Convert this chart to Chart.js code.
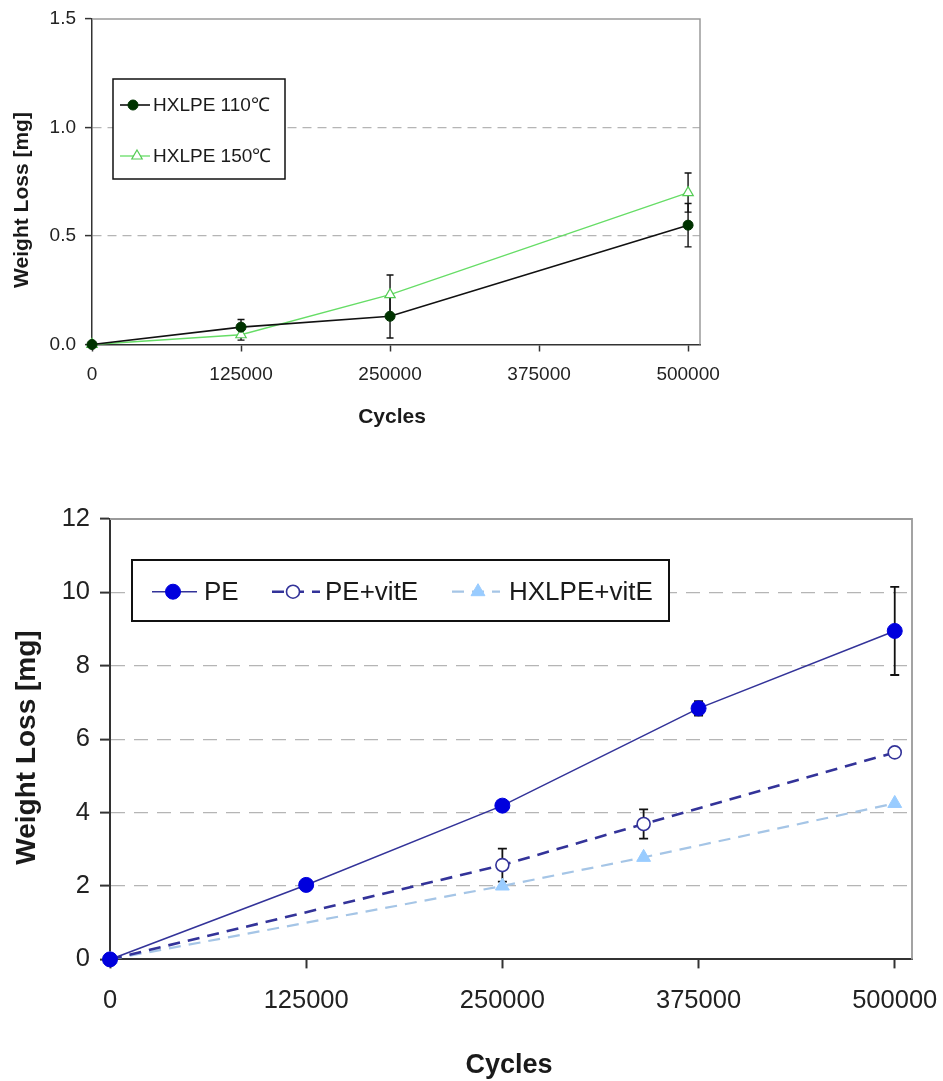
<!DOCTYPE html>
<html><head><meta charset="utf-8">
<script src="https://cdn.jsdelivr.net/npm/chart.js@4.4.0/dist/chart.umd.min.js"></script>
<style>
html,body{margin:0;padding:0;background:#fff;}
#wrap{position:relative;width:943px;height:1081px;overflow:hidden;background:#fff;}
canvas{position:absolute;left:0;display:block;}
#c1{top:0;} #c2{top:470px;}
</style></head><body>
<div id="wrap"><canvas id="c1" width="943" height="470"></canvas><canvas id="c2" width="943" height="611"></canvas></div>
<script>
// ---------- data: top chart ----------
const topCycles = [0, 125000, 250000, 500000];
const hx110 = [0, 0.08, 0.13, 0.55];
const hx110Err = [0, 0.035, 0.10, 0.10];
const hx150 = [0, 0.045, 0.23, 0.70];
const hx150Err = [0, 0.025, 0.09, 0.09];
const topXTicks = [0, 125000, 250000, 375000, 500000];
const topYTicks = [0, 0.5, 1.0, 1.5];

// ---------- data: bottom chart ----------
const peCycles = [0, 125000, 250000, 375000, 500000];
const pe = [0, 2.03, 4.19, 6.84, 8.95];
const peErr = [0, 0, 0, 0.2, 1.2];
const vitCycles = [0, 250000, 340000, 500000];
const peVit = [0, 2.57, 3.69, 5.64];
const peVitErr = [0, 0.45, 0.4, 0];
const hxVit = [0, 2.0, 2.78, 4.25];
const botXTicks = [0, 125000, 250000, 375000, 500000];
const botYTicks = [0, 2, 4, 6, 8, 10, 12];

const FONT = "'Liberation Sans', Arial, Helvetica, sans-serif";
const pts = (xs, ys) => xs.map((x, i) => ({x: x, y: ys[i]}));

function drawMarker(ctx, style, x, y, r, fill, stroke, lw) {
  ctx.save();
  ctx.beginPath();
  if (style === 'triangle') {
    let a = 0;
    ctx.moveTo(x + Math.sin(a) * r, y - Math.cos(a) * r);
    a += 2 * Math.PI / 3;
    ctx.lineTo(x + Math.sin(a) * r, y - Math.cos(a) * r);
    a += 2 * Math.PI / 3;
    ctx.lineTo(x + Math.sin(a) * r, y - Math.cos(a) * r);
    ctx.closePath();
  } else {
    ctx.arc(x, y, r, 0, Math.PI * 2);
  }
  ctx.fillStyle = fill; ctx.fill();
  ctx.lineWidth = lw; ctx.strokeStyle = stroke; ctx.stroke();
  ctx.restore();
}

const errorBars = {
  id: 'errorBars',
  beforeDatasetsDraw(chart) {
    const ctx = chart.ctx;
    const o = chart.options.plugins.errorBars;
    chart.data.datasets.forEach((ds) => {
      if (!ds.errors) return;
      const xs = chart.scales.x, ys = chart.scales.y;
      ds.data.forEach((d, i) => {
        const e = ds.errors[i];
        if (!e) return;
        const px = xs.getPixelForValue(d.x);
        const t = ys.getPixelForValue(d.y + e);
        const b = ys.getPixelForValue(d.y - e);
        ctx.save();
        ctx.strokeStyle = '#111';
        ctx.lineWidth = o.width;
        ctx.beginPath();
        ctx.moveTo(px, t); ctx.lineTo(px, b);
        ctx.moveTo(px - o.cap, t); ctx.lineTo(px + o.cap, t);
        ctx.moveTo(px - o.cap, b); ctx.lineTo(px + o.cap, b);
        ctx.stroke();
        ctx.restore();
      });
    });
  }
};

const decor = {
  id: 'decor',
  beforeDatasetsDraw(chart) {
    const ctx = chart.ctx, a = chart.chartArea;
    const o = chart.options.plugins.decor;
    ctx.save();
    ctx.strokeStyle = '#9a9a9a';
    ctx.lineWidth = o.frameWidth;
    ctx.beginPath();
    ctx.moveTo(a.left, a.top); ctx.lineTo(a.right, a.top); ctx.lineTo(a.right, a.bottom);
    ctx.stroke();
    ctx.restore();
  },
  afterDatasetsDraw(chart) {
    const ctx = chart.ctx;
    const o = chart.options.plugins.decor;
    const L = o.legend;
    ctx.save();
    ctx.fillStyle = '#fff';
    ctx.fillRect(L.box[0], L.box[1], L.box[2] - L.box[0], L.box[3] - L.box[1]);
    ctx.strokeStyle = '#111';
    ctx.lineWidth = L.boxWidth;
    ctx.strokeRect(L.box[0], L.box[1], L.box[2] - L.box[0], L.box[3] - L.box[1]);
    ctx.restore();
    L.items.forEach((it) => {
      const ds = chart.data.datasets[it.ds];
      ctx.save();
      ctx.strokeStyle = ds.borderColor;
      ctx.lineWidth = ds.borderWidth;
      ctx.setLineDash(ds.borderDash || []);
      ctx.beginPath();
      ctx.moveTo(it.x1, it.y); ctx.lineTo(it.x2, it.y);
      ctx.stroke();
      ctx.restore();
      drawMarker(ctx, ds.pointStyle, it.mx, it.y, ds.pointRadius, ds.pointBackgroundColor, ds.pointBorderColor, ds.pointBorderWidth);
      ctx.save();
      ctx.fillStyle = '#1a1a1a';
      ctx.font = L.font + 'px ' + FONT;
      ctx.textBaseline = 'middle';
      ctx.textAlign = 'left';
      ctx.fillText(ds.label, it.tx, it.y + 1);
      ctx.restore();
    });
    ctx.save();
    ctx.fillStyle = '#1a1a1a';
    ctx.textAlign = 'center';
    ctx.textBaseline = 'middle';
    ctx.font = 'bold ' + o.xTitle.size + 'px ' + FONT;
    ctx.fillText(o.xTitle.text, o.xTitle.x, o.xTitle.y);
    ctx.translate(o.yTitle.x, o.yTitle.y);
    ctx.rotate(-Math.PI / 2);
    ctx.font = 'bold ' + o.yTitle.size + 'px ' + FONT;
    ctx.fillText(o.yTitle.text, 0, 0);
    ctx.restore();
  }
};

function makeScales(cfg) {
  return {
    x: {
      type: 'linear', min: 0, max: cfg.xMax,
      afterBuildTicks: (s) => { s.ticks = cfg.xTicks.map(v => ({value: v})); },
      afterFit: (s) => { s.height = cfg.xHeight; s.paddingRight = 0; s.paddingLeft = 0; },
      grid: { color: 'rgba(0,0,0,0)', drawOnChartArea: false, drawTicks: true, tickLength: cfg.xTickLen, tickColor: '#333', tickWidth: cfg.axisWidth },
      border: { color: '#333', width: cfg.axisWidth },
      ticks: { color: '#222', font: { family: FONT, size: cfg.tickSize }, padding: cfg.xPad, maxRotation: 0, autoSkip: false,
               callback: (v) => String(v) }
    },
    y: {
      type: 'linear', min: 0, max: cfg.yMax,
      afterBuildTicks: (s) => { s.ticks = cfg.yTicks.map(v => ({value: v})); },
      afterFit: (s) => { s.width = cfg.yWidth; s.paddingTop = 0; s.paddingBottom = 0; },
      grid: {
        color: (c) => (c.tick && (c.tick.value === 0 || c.tick.value === cfg.yMax)) ? 'rgba(0,0,0,0)' : '#b5b5b5',
        lineWidth: 1.2, tickLength: cfg.yTickLen, tickColor: '#333', tickWidth: cfg.axisWidth
      },
      border: { color: '#333', width: cfg.axisWidth, dash: cfg.dash },
      ticks: { color: '#222', font: { family: FONT, size: cfg.tickSize }, padding: cfg.yPad,
               callback: (v) => cfg.yFmt(v) }
    }
  };
}

// ---------- top chart ----------
new Chart(document.getElementById('c1'), {
  type: 'line',
  data: {
    datasets: [
      { label: 'HXLPE 110\u2103', data: pts(topCycles, hx110), errors: hx110Err,
        borderColor: '#111', borderWidth: 1.6, pointStyle: 'circle', pointRadius: 5,
        pointBackgroundColor: '#003300', pointBorderColor: '#003300', pointBorderWidth: 1, clip: false },
      { label: 'HXLPE 150\u2103', data: pts(topCycles, hx150), errors: hx150Err,
        borderColor: '#66dd66', borderWidth: 1.3, pointStyle: 'triangle', pointRadius: 6,
        pointBackgroundColor: '#ffffff', pointBorderColor: '#55cc55', pointBorderWidth: 1.2, clip: false }
    ]
  },
  options: {
    responsive: false, animation: false, devicePixelRatio: 1,
    layout: { padding: { left: 0, top: 19, right: 243, bottom: 0 } },
    scales: makeScales({ xMax: 510000, xTicks: topXTicks, xHeight: 125.5, xTickLen: 7, xPad: 12,
      yMax: 1.5, yTicks: topYTicks, yWidth: 92, yTickLen: 7, yPad: 9, tickSize: 19, axisWidth: 1.5,
      dash: [9, 6], yFmt: (v) => v.toFixed(1) }),
    plugins: {
      legend: { display: false }, tooltip: { enabled: false },
      errorBars: { cap: 3.5, width: 1.4 },
      decor: {
        frameWidth: 1.5,
        legend: { box: [113, 79, 285, 179], boxWidth: 1.5, font: 19,
          items: [ { ds: 0, x1: 120, x2: 150, mx: 133, tx: 153, y: 105 },
                   { ds: 1, x1: 120, x2: 150, mx: 137, tx: 153, y: 156 } ] },
        xTitle: { text: 'Cycles', x: 392, y: 417, size: 21 },
        yTitle: { text: 'Weight Loss [mg]', x: 22.5, y: 200, size: 21 }
      }
    }
  },
  plugins: [errorBars, decor]
});

// ---------- bottom chart ----------
new Chart(document.getElementById('c2'), {
  type: 'line',
  data: {
    datasets: [
      { label: 'PE', data: pts(peCycles, pe), errors: peErr,
        borderColor: '#333399', borderWidth: 1.6, pointStyle: 'circle', pointRadius: 7.5,
        pointBackgroundColor: '#0000dd', pointBorderColor: '#0000dd', pointBorderWidth: 1, clip: false },
      { label: 'PE+vitE', data: pts(vitCycles, peVit), errors: peVitErr,
        borderColor: '#333399', borderWidth: 2.6, borderDash: [12, 8], pointStyle: 'circle', pointRadius: 6.5,
        pointBackgroundColor: '#ffffff', pointBorderColor: '#333399', pointBorderWidth: 1.6, clip: false },
      { label: 'HXLPE+vitE', data: pts(vitCycles, hxVit),
        borderColor: '#a5c5e6', borderWidth: 2.2, borderDash: [12, 8], pointStyle: 'triangle', pointRadius: 8,
        pointBackgroundColor: '#99ccff', pointBorderColor: '#99ccff', pointBorderWidth: 1, clip: false }
    ]
  },
  options: {
    responsive: false, animation: false, devicePixelRatio: 1,
    layout: { padding: { left: 0, top: 49, right: 31, bottom: 0 } },
    scales: makeScales({ xMax: 511000, xTicks: botXTicks, xHeight: 121.6, xTickLen: 9, xPad: 17,
      yMax: 12, yTicks: botYTicks, yWidth: 110, yTickLen: 10, yPad: 10, tickSize: 25.5, axisWidth: 2,
      dash: [14, 9], yFmt: (v) => String(v) }),
    plugins: {
      legend: { display: false }, tooltip: { enabled: false },
      errorBars: { cap: 4.5, width: 1.8 },
      decor: {
        frameWidth: 1.8,
        legend: { box: [132, 90, 669, 151], boxWidth: 2, font: 26,
          items: [ { ds: 0, x1: 152, x2: 197, mx: 173, tx: 204, y: 121.7 },
                   { ds: 1, x1: 272, x2: 320, mx: 293, tx: 325, y: 121.7 },
                   { ds: 2, x1: 452, x2: 500, mx: 478, tx: 509, y: 121.7 } ] },
        xTitle: { text: 'Cycles', x: 509, y: 595.5, size: 27 },
        yTitle: { text: 'Weight Loss [mg]', x: 27.5, y: 277.5, size: 28 }
      }
    }
  },
  plugins: [errorBars, decor]
});
</script>
</body></html>
